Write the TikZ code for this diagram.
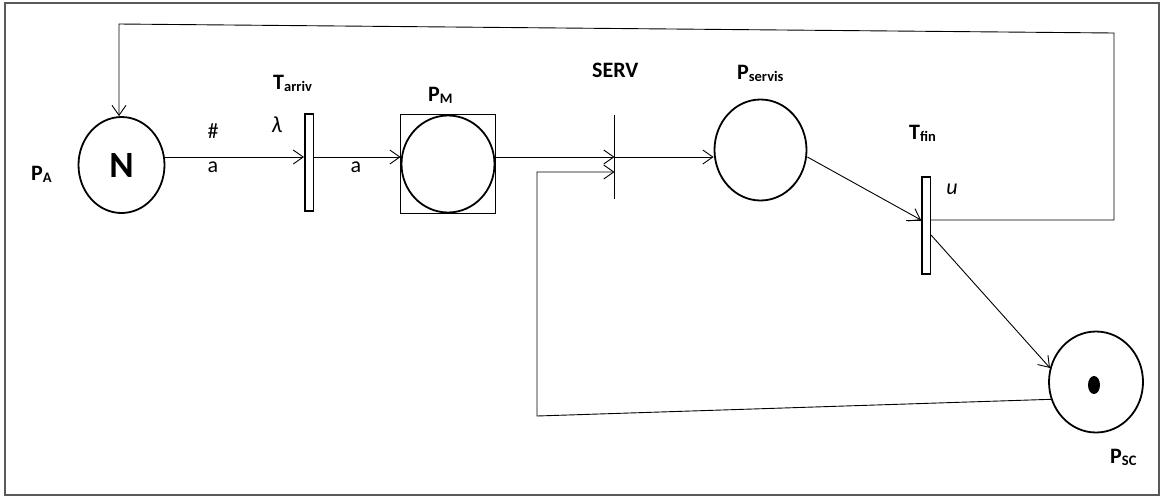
\documentclass[tikz,border=0pt]{standalone}
\usepackage{fontspec}
\setmainfont{Carlito}
\usetikzlibrary{shapes.geometric,arrows.meta,calc}
\newcommand\lbl[2]{#1\raisebox{-2.5pt}{\fontsize{14.5}{14.5}\selectfont #2}}
\begin{document}
\begin{tikzpicture}[x=1pt,y=-1pt,
  place/.style={ellipse,draw,line width=1.8pt,inner sep=0pt},
  trans/.style={rectangle,draw,fill=white,line width=1.5pt,inner sep=0pt,minimum width=8.5pt,minimum height=97pt},
  arc/.style={line width=0.9pt,-{Straight Barb[length=10pt,width=14pt]}},
  plain/.style={line width=0.9pt},
  lab/.style={font=\fontsize{22}{26}\selectfont\bfseries,anchor=base west,inner sep=0pt},
  txt/.style={font=\fontsize{22}{26}\selectfont,anchor=base,inner sep=0pt}]
\useasboundingbox (0,0) rectangle (1161,496);
\draw[gray!70!black,line width=1.2pt] (5,3) rectangle (1159,495);
% nodes
\node[place,minimum width=86pt,minimum height=96pt,font=\fontsize{37}{40}\selectfont\bfseries] (PA) at (121.5,165) {N};
\node[trans] (Tarriv) at (309,162.5) {};
\node[draw,line width=1.8pt,minimum width=95pt,minimum height=99pt,inner sep=0pt] (PMbox) at (448,164) {};
\node[place,minimum width=93pt,minimum height=97pt] (PM) at (448,164) {};
\node[inner sep=0pt,minimum width=0pt,minimum height=84pt] (SERV) at (614.5,157) {};
\draw[line width=1.6pt] (SERV.north) -- (SERV.south);
\node[place,minimum width=92pt,minimum height=101pt] (Pservis) at (760.5,150) {};
\node[trans] (Tfin) at (926,225.5) {};
\node[place,minimum width=94pt,minimum height=101pt] (PSC) at (1096,382) {};
\node[ellipse,fill=black,minimum width=12pt,minimum height=18pt,inner sep=0pt] (tok) at (1094,385) {};
% helper coordinates
\coordinate (row) at (0,157);
\coordinate (fb) at (0,220);
\coordinate (c1) at (1114,220);
\coordinate (c2) at (1114,33);
\coordinate (c3) at (119,24);
\coordinate (d1) at (537,416);
\coordinate (d2) at (537,172);
% connectors
\draw[arc] (PA.east |- row) -- (Tarriv.west |- row);
\draw[arc] (Tarriv.east |- row) -- (PM.west |- row);
\draw[arc] (PMbox.east |- row) -- (SERV.center);
\draw[arc] (SERV.center) -- (Pservis.west |- row);
\draw[arc] (Pservis.east |- row) -- (Tfin.west |- fb);
\draw[plain] ([xshift=-15pt]Tfin.west |- fb) -- (Tfin.west |- fb);
\draw[arc] (Tfin.east |- fb) -- (c1) -- (c2) -- (c3) -- (c3 |- PA.north);
\draw[arc] ([yshift=-9.5pt]Tfin.east) -- (PSC.163);
\draw[arc] (PSC.201) -- (d1) -- (d2) -- (SERV.center |- d2);
% labels
\node[lab] (lPA) at (31,180) {\lbl{P}{A}};
\node[txt] (hash) at (213,138) {\#};
\node[txt] (a1) at (213,172) {a};
\node[txt] (a2) at (356,172) {a};
\node[txt,font=\fontsize{23}{26}\selectfont\itshape] (lam) at (277,132) {λ};
\node[lab] (lTa) at (273,89) {\lbl{T}{arriv}};
\node[lab] (lPM) at (428,101) {\lbl{P}{M}};
\node[lab] (lSERV) at (592,77) {SERV};
\node[lab] (lPs) at (737,79) {\lbl{P}{servis}};
\node[lab] (lTf) at (909,139) {\lbl{T}{fin}};
\node[txt,font=\fontsize{22}{26}\selectfont\itshape] (mu) at (952,194) {u};
\node[lab] (lPSC) at (1110,463) {\lbl{P}{SC}};
\end{tikzpicture}
\end{document}
